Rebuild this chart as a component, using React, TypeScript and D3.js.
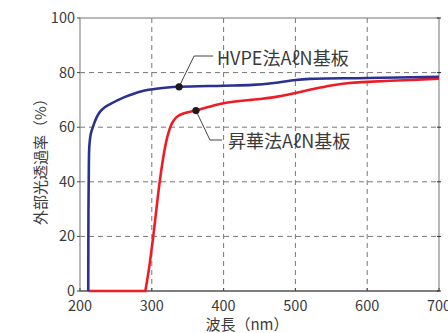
import * as d3 from 'd3';
import React, { useRef, useEffect } from 'react';

// wavelength (nm), transmittance (%)
const hvpeWave = [211.5, 211.8, 212.3, 213, 215, 218.5, 223, 228, 235, 240, 262, 286, 309, 338, 400, 440, 470, 500, 520, 600, 700];
const hvpeVal = [0, 30, 45, 53, 57.5, 60.5, 63.5, 65.7, 67.4, 68.2, 71, 73.2, 74.2, 74.8, 75.2, 75.5, 76.2, 77.3, 77.7, 78, 78.5];
const sublWave = [212, 291, 296, 302, 311, 318, 322, 326, 330, 336, 345, 362, 400, 450, 475, 500, 525, 550, 575, 600, 650, 700];
const sublVal = [0, 0, 8, 20, 40, 52, 56.8, 60.2, 62.3, 64, 65.1, 66.2, 68.8, 70.3, 71.2, 72.5, 74, 75.3, 76.2, 76.6, 77.2, 77.8];
const xTicks = [200, 300, 400, 500, 600, 700];
const yTicks = [0, 20, 40, 60, 80, 100];
const labelHvpe = 'HVPE法AℓN基板';
const labelSubl = '昇華法AℓN基板';

const FONT = "'Noto Sans CJK JP', 'Noto Sans', sans-serif";

function App() {
  const svgRef = useRef(null);

  useEffect(() => {
    const width = 448, height = 333;
    const margin = { top: 18, right: 9, bottom: 42, left: 80 };
    const svg = d3.select(svgRef.current).attr('width', width).attr('height', height);
    svg.selectAll('*').remove();

    const x = d3.scaleLinear().domain([200, 700]).range([margin.left, width - margin.right]);
    const y = d3.scaleLinear().domain([0, 100]).range([height - margin.bottom, margin.top]);

    // grid
    svg.append('g').selectAll('line').data(xTicks.slice(1, -1)).join('line')
      .attr('x1', d => x(d)).attr('x2', d => x(d))
      .attr('y1', y(100)).attr('y2', y(0))
      .attr('stroke', '#777').attr('stroke-width', 1).attr('stroke-dasharray', '5,4');
    svg.append('g').selectAll('line').data(yTicks.slice(1, -1)).join('line')
      .attr('x1', x(200)).attr('x2', x(700))
      .attr('y1', d => y(d)).attr('y2', d => y(d))
      .attr('stroke', '#777').attr('stroke-width', 1).attr('stroke-dasharray', '5,4');

    // frame
    svg.append('rect')
      .attr('x', x(200)).attr('y', y(100))
      .attr('width', x(700) - x(200)).attr('height', y(0) - y(100))
      .attr('fill', 'none').attr('stroke', '#8a8a8a').attr('stroke-width', 1.2);
    svg.append('line')
      .attr('x1', x(200)).attr('x2', x(700)).attr('y1', y(0)).attr('y2', y(0))
      .attr('stroke', '#444').attr('stroke-width', 1.2);

    // ticks
    svg.append('g').selectAll('line').data(yTicks).join('line')
      .attr('x1', x(200) - 3).attr('x2', x(200))
      .attr('y1', d => y(d)).attr('y2', d => y(d)).attr('stroke', '#444');
    svg.append('g').selectAll('line').data(yTicks).join('line')
      .attr('x1', x(700) - 2).attr('x2', x(700) + 2)
      .attr('y1', d => y(d)).attr('y2', d => y(d)).attr('stroke', '#222');
    svg.append('g').selectAll('line').data(xTicks).join('line')
      .attr('x1', d => x(d)).attr('x2', d => x(d))
      .attr('y1', y(0)).attr('y2', y(0) - 3).attr('stroke', '#444');

    // tick labels
    svg.append('g').selectAll('text').data(yTicks).join('text')
      .attr('x', x(200) - 5).attr('y', d => y(d)).attr('dy', '0.35em')
      .attr('text-anchor', 'end').attr('font-family', FONT).attr('font-size', 14.5)
      .attr('fill', '#3a3a3a').text(d => d);
    svg.append('g').selectAll('text').data(xTicks).join('text')
      .attr('x', d => x(d)).attr('y', y(0) + 15).attr('dy', '0.35em')
      .attr('text-anchor', 'middle').attr('font-family', FONT).attr('font-size', 14.5)
      .attr('fill', '#3a3a3a').text(d => d);

    // axis titles
    svg.append('text')
      .attr('transform', `translate(41,158) rotate(-90)`)
      .attr('text-anchor', 'middle').attr('dy', '0.35em')
      .attr('font-family', FONT).attr('font-size', 15).attr('fill', '#3a3a3a')
      .text('外部光透過率（%）');
    svg.append('text')
      .attr('x', 247).attr('y', 325).attr('dy', '0.35em')
      .attr('text-anchor', 'middle')
      .attr('font-family', FONT).attr('font-size', 15).attr('fill', '#3a3a3a')
      .text('波長（nm）');

    const hvpe = hvpeWave.map((w, i) => [x(w), y(hvpeVal[i])] as [number, number]);
    const subl = sublWave.map((w, i) => [x(w), y(sublVal[i])] as [number, number]);

    const flat = d3.line()(subl.slice(0, 2)) || '';
    const rise = (d3.line().curve(d3.curveCatmullRom)(subl.slice(1)) || '').replace(/^M/, 'L');
    svg.append('path').attr('d', flat + rise)
      .attr('fill', 'none').attr('stroke', '#ee1c25').attr('stroke-width', 2.6);
    svg.append('path').attr('d', d3.line().curve(d3.curveCatmullRom)(hvpe))
      .attr('fill', 'none').attr('stroke', '#2b3190').attr('stroke-width', 2.6);

    // annotations
    const dotH = [x(338), y(74.8)];
    const dotS = [x(361.5), y(66.1)];
    svg.append('polyline')
      .attr('points', `${dotH[0]},${dotH[1]} ${dotH[0] + 15},56 ${dotH[0] + 34},56`)
      .attr('fill', 'none').attr('stroke', '#444').attr('stroke-width', 1);
    svg.append('polyline')
      .attr('points', `${dotS[0]},${dotS[1]} ${dotS[0] + 14},140 ${dotS[0] + 26},140`)
      .attr('fill', 'none').attr('stroke', '#444').attr('stroke-width', 1);
    svg.append('circle').attr('cx', dotH[0]).attr('cy', dotH[1]).attr('r', 3.6).attr('fill', '#1a1a1a');
    svg.append('circle').attr('cx', dotS[0]).attr('cy', dotS[1]).attr('r', 3.6).attr('fill', '#1a1a1a');

    svg.append('text').attr('x', 217).attr('y', 59).attr('dy', '0.35em')
      .attr('font-family', FONT).attr('font-size', 18).attr('fill', '#3a3a3a').text(labelHvpe);
    svg.append('text').attr('x', 228).attr('y', 142).attr('dy', '0.35em')
      .attr('font-family', FONT).attr('font-size', 18).attr('fill', '#3a3a3a').text(labelSubl);
  }, []);

  return (
    <div style={{ position: 'absolute', left: 0, top: 0 }}>
      <svg ref={svgRef}></svg>
    </div>
  );
}

export default App;
